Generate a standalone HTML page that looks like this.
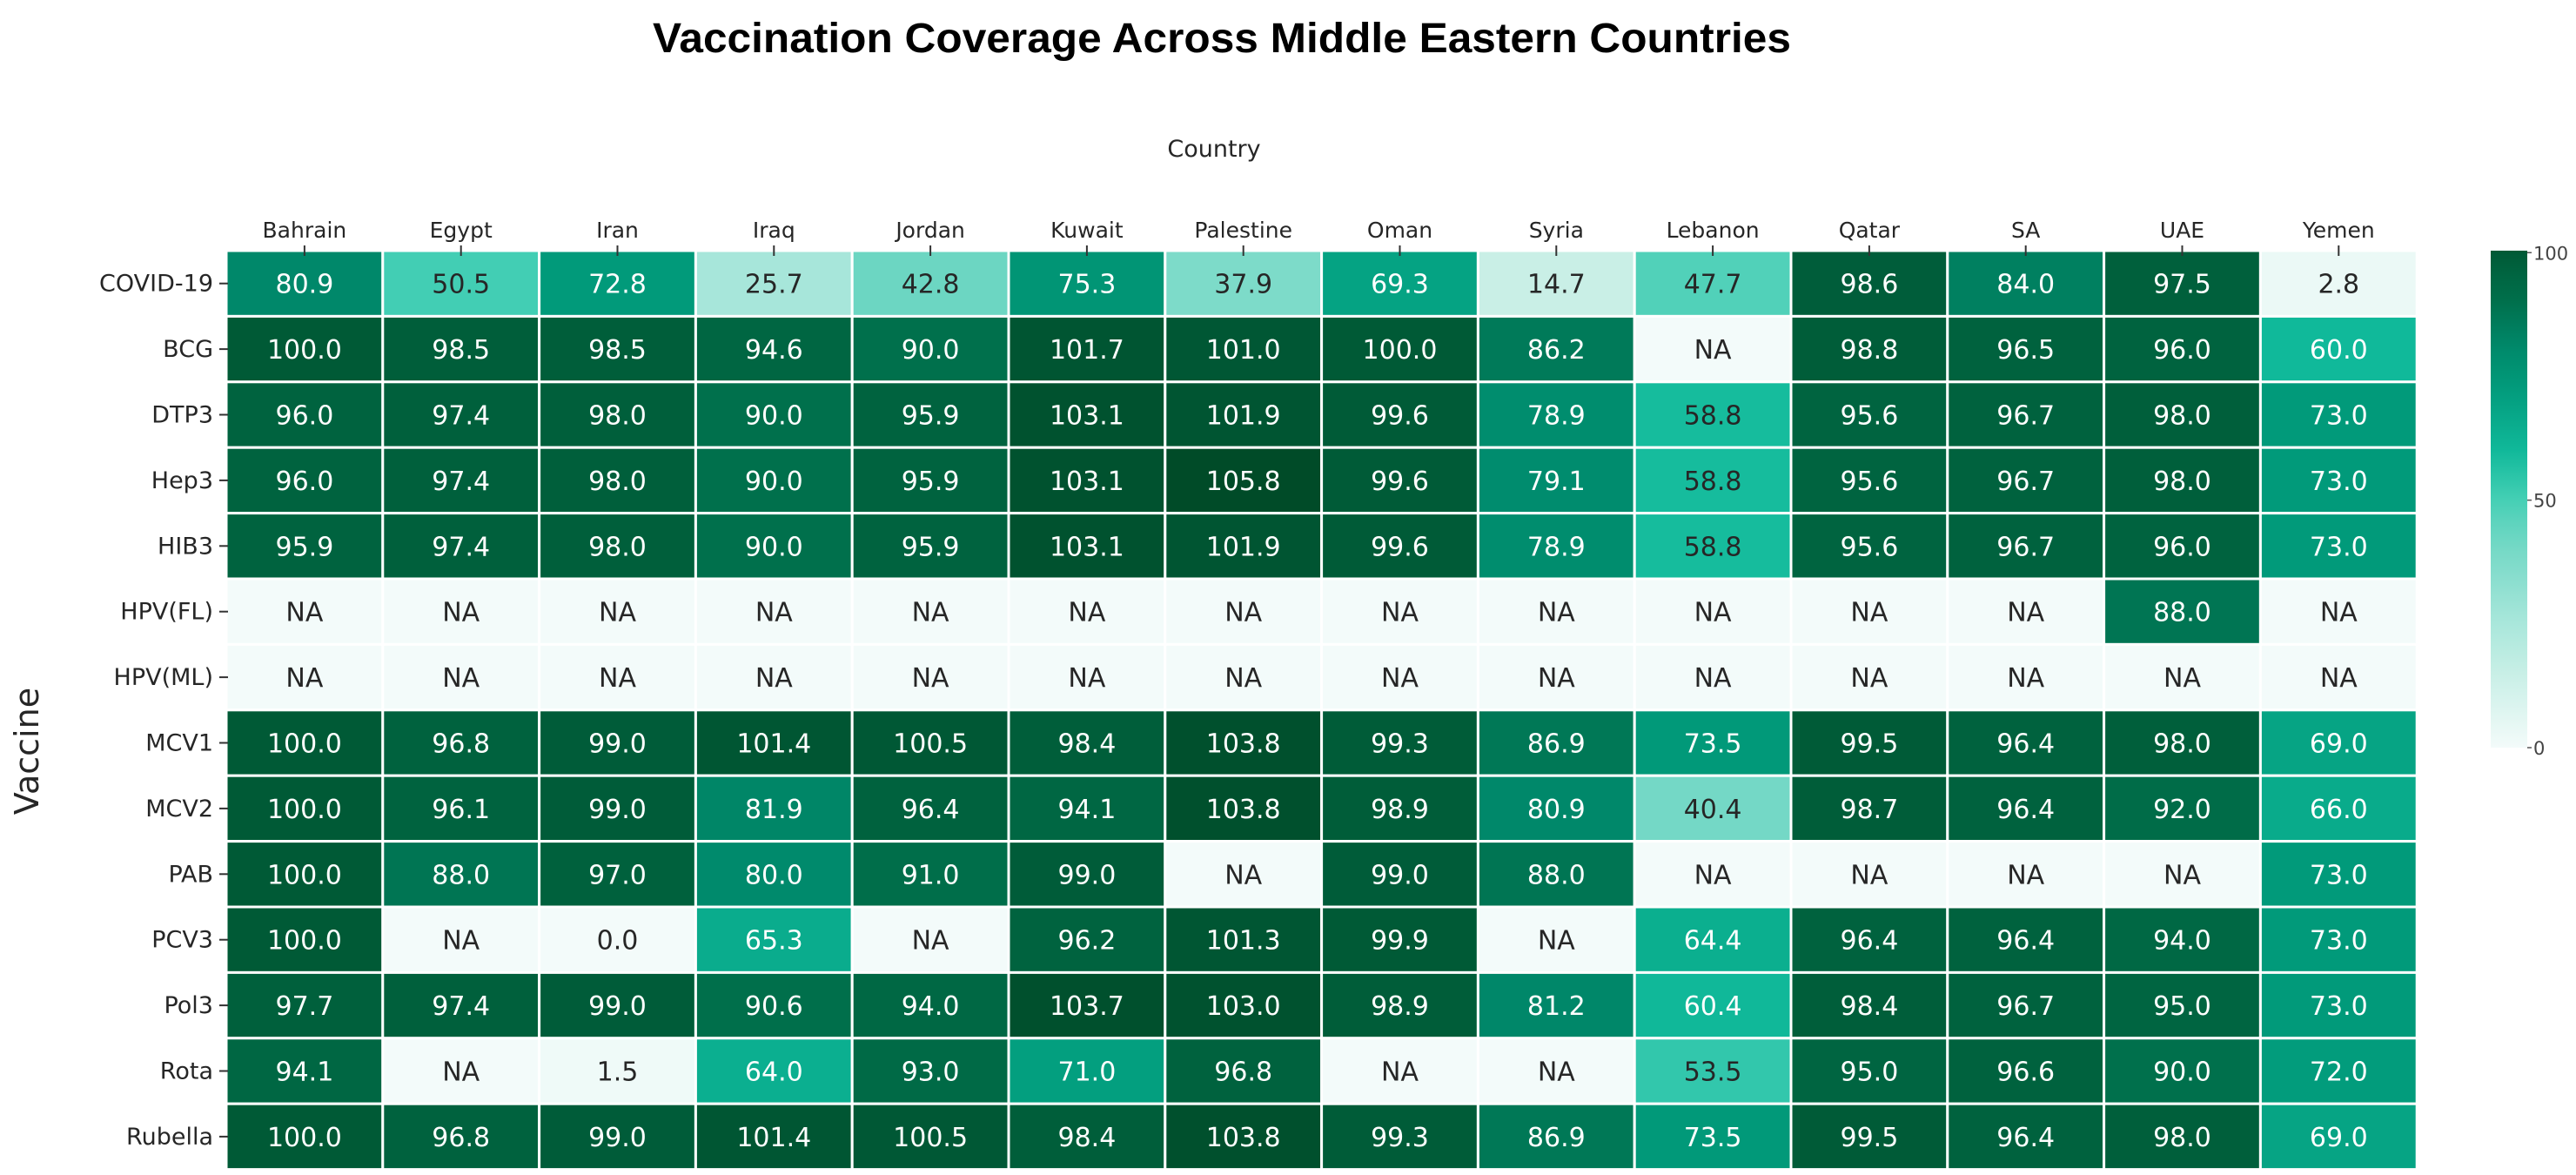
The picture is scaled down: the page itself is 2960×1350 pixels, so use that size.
<!DOCTYPE html>
<html><head><meta charset="utf-8"><style>
html,body{margin:0;padding:0;background:#fff;}
svg{display:block;}
</style></head><body>
<svg id="chart" width="2960" height="1350" viewBox="0 0 2960 1350" xmlns="http://www.w3.org/2000/svg">
<text x="1404" y="60" text-anchor="middle" font-family="Liberation Sans, sans-serif" font-weight="bold" font-size="48" textLength="1308" lengthAdjust="spacingAndGlyphs" fill="#000">Vaccination Coverage Across Middle Eastern Countries</text>
<text x="1395" y="180" text-anchor="middle" font-family="DejaVu Sans, sans-serif" font-size="27" fill="#262626">Country</text>
<text transform="translate(44,863) rotate(-90)" text-anchor="middle" font-family="DejaVu Sans, sans-serif" font-size="38" fill="#262626">Vaccine</text>
<g id="cells"></g><g id="xlabels"></g><g id="ylabels"></g><g id="cbar"></g>
</svg>
<script>
const countries = ["Bahrain","Egypt","Iran","Iraq","Jordan","Kuwait","Palestine","Oman","Syria","Lebanon","Qatar","SA","UAE","Yemen"];
const vaccines = ["COVID-19","BCG","DTP3","Hep3","HIB3","HPV(FL)","HPV(ML)","MCV1","MCV2","PAB","PCV3","Pol3","Rota","Rubella"];
const rowCOVID = [80.9,50.5,72.8,25.7,42.8,75.3,37.9,69.3,14.7,47.7,98.6,84.0,97.5,2.8];
const rowBCG = [100.0,98.5,98.5,94.6,90.0,101.7,101.0,100.0,86.2,null,98.8,96.5,96.0,60.0];
const rowDTP3 = [96.0,97.4,98.0,90.0,95.9,103.1,101.9,99.6,78.9,58.8,95.6,96.7,98.0,73.0];
const rowHep3 = [96.0,97.4,98.0,90.0,95.9,103.1,105.8,99.6,79.1,58.8,95.6,96.7,98.0,73.0];
const rowHIB3 = [95.9,97.4,98.0,90.0,95.9,103.1,101.9,99.6,78.9,58.8,95.6,96.7,96.0,73.0];
const rowHPVFL = [null,null,null,null,null,null,null,null,null,null,null,null,88.0,null];
const rowHPVML = [null,null,null,null,null,null,null,null,null,null,null,null,null,null];
const rowMCV1 = [100.0,96.8,99.0,101.4,100.5,98.4,103.8,99.3,86.9,73.5,99.5,96.4,98.0,69.0];
const rowMCV2 = [100.0,96.1,99.0,81.9,96.4,94.1,103.8,98.9,80.9,40.4,98.7,96.4,92.0,66.0];
const rowPAB = [100.0,88.0,97.0,80.0,91.0,99.0,null,99.0,88.0,null,null,null,null,73.0];
const rowPCV3 = [100.0,null,0.0,65.3,null,96.2,101.3,99.9,null,64.4,96.4,96.4,94.0,73.0];
const rowPol3 = [97.7,97.4,99.0,90.6,94.0,103.7,103.0,98.9,81.2,60.4,98.4,96.7,95.0,73.0];
const rowRota = [94.1,null,1.5,64.0,93.0,71.0,96.8,null,null,53.5,95.0,96.6,90.0,72.0];
const rowRubella = [100.0,96.8,99.0,101.4,100.5,98.4,103.8,99.3,86.9,73.5,99.5,96.4,98.0,69.0];
const cbTicks = [0,50,100];

const values = [rowCOVID,rowBCG,rowDTP3,rowHep3,rowHIB3,rowHPVFL,rowHPVML,rowMCV1,rowMCV2,rowPAB,rowPCV3,rowPol3,rowRota,rowRubella];
const NS="http://www.w3.org/2000/svg";
const L=260,T=288,CW=179.8,RH=75.4;
const xPos=i=>L+i*CW, yPos=j=>T+j*RH;
const stops=[[0,[243,251,250]],[15,[200,239,230]],[26,[166,230,218]],[43,[107,214,194]],[50,[69,207,181]],[60,[16,185,154]],[73,[1,154,122]],[81,[0,136,106]],[90,[0,112,76]],[98,[0,95,59]],[106,[0,74,40]]];
function color(v){
  if(v===null) return [243,251,250];
  if(v<=stops[0][0]) return stops[0][1];
  for(let k=1;k<stops.length;k++){ if(v<=stops[k][0]){const a=stops[k-1],b=stops[k],t=(v-a[0])/(b[0]-a[0]);return a[1].map((c,i)=>Math.round(c+(b[1][i]-c)*t));}}
  return stops[stops.length-1][1];
}
const rgb=c=>`rgb(${c[0]},${c[1]},${c[2]})`;
const mk=(tag,attrs,parent)=>{const e=document.createElementNS(NS,tag);for(const k in attrs)e.setAttribute(k,attrs[k]);parent.appendChild(e);return e;};
const gC=document.getElementById('cells');
values.forEach((row,j)=>row.forEach((v,i)=>{
  const c=color(v);
  const r=mk('rect',{x:xPos(i),y:yPos(j),width:CW,height:RH,fill:rgb(c),stroke:'#fff','stroke-width':3},gC);
  
  
  const dark = (v===null || v<59.5);
  const t=mk('text',{x:xPos(i)+CW/2,y:yPos(j)+RH/2+11,'text-anchor':'middle','font-family':'DejaVu Sans, sans-serif','font-size':30,fill:dark?'#262626':'#ffffff'},gC);
  t.textContent=v===null?'NA':v.toFixed(1);
  
  
}));
const gX=document.getElementById('xlabels');
countries.forEach((n,i)=>{
  const t=mk('text',{x:xPos(i)+CW/2,y:273,'text-anchor':'middle','font-family':'DejaVu Sans, sans-serif','font-size':25,fill:'#262626'},gX);
  t.textContent=n;
  
  
  const l=mk('line',{x1:xPos(i)+CW/2,x2:xPos(i)+CW/2,y1:282,y2:294,stroke:'#333','stroke-width':2},gX);
  
  
});
const gY=document.getElementById('ylabels');
vaccines.forEach((n,j)=>{
  const t=mk('text',{x:245,y:yPos(j)+RH/2+9,'text-anchor':'end','font-family':'DejaVu Sans, sans-serif','font-size':27,fill:'#262626'},gY);
  t.textContent=n;
  
  
  const l=mk('line',{x1:252,x2:262,y1:yPos(j)+RH/2,y2:yPos(j)+RH/2,stroke:'#333','stroke-width':2},gY);
  
  
});
const gB=document.getElementById('cbar');
const cbX=2862,cbW=42,cbTop=288,cbBot=859,cbMax=100.4;
const cbY=v=>cbBot-(v/cbMax)*(cbBot-cbTop);
const defs=mk('defs',{},gB);
const grad=mk('linearGradient',{id:'cbg',x1:0,y1:1,x2:0,y2:0},defs);
for(let k=0;k<=20;k++){const v=cbMax*k/20;mk('stop',{offset:k/20,'stop-color':rgb(color(v))},grad);}
const bar=mk('rect',{x:cbX,y:cbTop,width:cbW,height:cbBot-cbTop,fill:'url(#cbg)'},gB);


cbTicks.forEach(v=>{
  const l=mk('line',{x1:cbX+cbW,x2:cbX+cbW+5,y1:cbY(v),y2:cbY(v),stroke:'#555','stroke-width':1.5},gB);
  
  
  const t=mk('text',{x:cbX+cbW+7,y:cbY(v)+8,'font-family':'DejaVu Sans, sans-serif','font-size':21,fill:'#444'},gB);
  t.textContent=String(v);
  
  
});
</script>
</body></html>
